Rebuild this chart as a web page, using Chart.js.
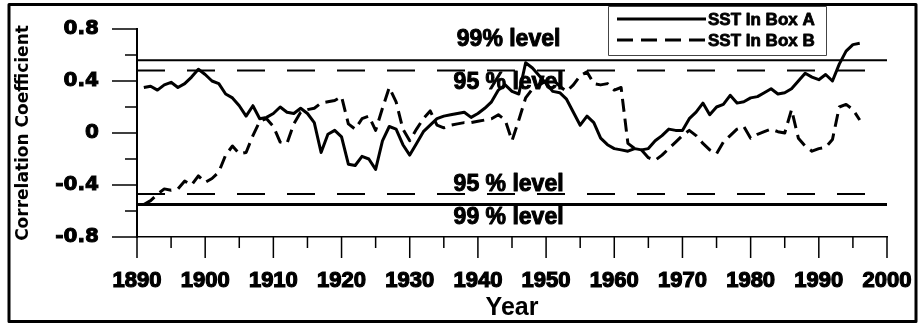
<!DOCTYPE html>
<html>
<head>
<meta charset="UTF-8">
<title>SST correlation</title>
<script src="https://cdn.jsdelivr.net/npm/chart.js@4.4.1/dist/chart.umd.min.js"></script>
<style>
  body { margin: 0; background: #fff; }
  canvas { display: block; }
</style>
</head>
<body>
<canvas id="chart1" width="919" height="324"></canvas>
<script>
// years of the running correlations
var years = [
  1891, 1892, 1893, 1894, 1895, 1896, 1897, 1898, 1899, 1900,
  1901, 1902, 1903, 1904, 1905, 1906, 1907, 1908, 1909, 1910,
  1911, 1912, 1913, 1914, 1915, 1916, 1917, 1918, 1919, 1920,
  1921, 1922, 1923, 1924, 1925, 1926, 1927, 1928, 1929, 1930,
  1931, 1932, 1933, 1934, 1935, 1936, 1937, 1938, 1939, 1940,
  1941, 1942, 1943, 1944, 1945, 1946, 1947, 1948, 1949, 1950,
  1951, 1952, 1953, 1954, 1955, 1956, 1957, 1958, 1959, 1960,
  1961, 1962, 1963, 1964, 1965, 1966, 1967, 1968, 1969, 1970,
  1971, 1972, 1973, 1974, 1975, 1976, 1977, 1978, 1979, 1980,
  1981, 1982, 1983, 1984, 1985, 1986, 1987, 1988, 1989, 1990,
  1991, 1992, 1993, 1994, 1995, 1996
];

var boxA = [
  0.35, 0.36, 0.33, 0.37, 0.39, 0.35, 0.38, 0.43, 0.49, 0.45,
  0.40, 0.38, 0.30, 0.27, 0.21, 0.13, 0.21, 0.11, 0.12, 0.15,
  0.20, 0.16, 0.15, 0.19, 0.15, 0.08, -0.15, -0.01, 0.02, -0.03,
  -0.24, -0.25, -0.18, -0.20, -0.28, -0.06, 0.05, 0.03, -0.09, -0.17,
  -0.08, 0.01, 0.06, 0.11, 0.13, 0.14, 0.15, 0.16, 0.12, 0.15,
  0.19, 0.24, 0.33, 0.37, 0.32, 0.30, 0.54, 0.50, 0.44, 0.38,
  0.32, 0.31, 0.26, 0.16, 0.06, 0.13, 0.08, -0.04, -0.09, -0.12,
  -0.13, -0.14, -0.12, -0.13, -0.12, -0.06, -0.02, 0.03, 0.02, 0.02,
  0.11, 0.16, 0.23, 0.14, 0.20, 0.22, 0.29, 0.23, 0.24, 0.27,
  0.28, 0.31, 0.34, 0.30, 0.31, 0.34, 0.40, 0.46, 0.43, 0.41,
  0.45, 0.40, 0.53, 0.63, 0.68, 0.69
];

var boxB = [
  -0.55, -0.52, -0.47, -0.43, -0.44, -0.43, -0.37, -0.40, -0.33, -0.38,
  -0.35, -0.30, -0.17, -0.10, -0.16, -0.15, -0.02, 0.09, 0.11, 0.05,
  -0.07, -0.08, 0.07, 0.16, 0.18, 0.19, 0.23, 0.24, 0.25, 0.28,
  0.07, 0.03, 0.11, 0.13, 0.02, 0.19, 0.35, 0.24, 0.03, -0.06,
  0.03, 0.11, 0.17, 0.06, 0.04, 0.06, 0.07, 0.08, 0.08, 0.09,
  0.10, 0.11, 0.14, 0.10, -0.06, 0.10, 0.27, 0.34, 0.37, 0.40,
  0.41, 0.36, 0.32, 0.37, 0.44, 0.47, 0.38, 0.37, 0.38, 0.33,
  0.35, -0.08, -0.12, -0.13, -0.19, -0.21, -0.17, -0.12, -0.07, -0.02,
  0.02, -0.02, -0.08, -0.13, -0.16, -0.07, -0.02, 0.03, 0.05, -0.04,
  -0.01, 0.01, 0.03, 0.01, 0.00, 0.18, -0.04, -0.10, -0.14, -0.12,
  -0.11, -0.05, 0.20, 0.22, 0.18, 0.10
];

var seriesNames = ["SST In Box A", "SST In Box B"];

// significance levels
var levelNames = ["99% level", "95 % level", "95 % level", "99 % level"];
var levelValues = [0.56, 0.48, -0.47, -0.55];
var levelSpan = [1890, 2000];

function pts(vals) {
  return years.map(function (yr, i) { return { x: yr, y: vals[i] }; });
}
function levelPts(v) {
  return levelSpan.map(function (yr) { return { x: yr, y: v }; });
}

var levelDash = [[], [28, 22], [28, 22], []];
var levelWidth = [2, 2, 2, 3];

var datasets = levelValues.map(function (v, i) {
  return {
    label: levelNames[i],
    data: levelPts(v),
    borderColor: "#000",
    borderWidth: levelWidth[i],
    borderDash: levelDash[i],
    pointRadius: 0,
    fill: false
  };
});
datasets.push({
  label: seriesNames[0],
  data: pts(boxA),
  borderColor: "#000",
  borderWidth: 3,
  borderJoinStyle: "round",
  pointRadius: 0,
  tension: 0,
  fill: false
});
datasets.push({
  label: seriesNames[1],
  data: pts(boxB),
  borderColor: "#000",
  borderWidth: 3,
  borderDash: [13, 7],
  borderJoinStyle: "round",
  pointRadius: 0,
  tension: 0,
  fill: false
});

// heavy text: fill plus a thin stroke
function heavyText(c, t, x, y, w) {
  c.lineWidth = w;
  c.strokeText(t, x, y);
  c.fillText(t, x, y);
}

// frame, tick marks, level texts and legend box
var extras = {
  id: "extras",
  beforeDraw: function (chart) {
    var c = chart.ctx;
    c.save();
    c.fillStyle = "#fff";
    c.fillRect(0, 0, chart.width, chart.height);
    c.restore();
  },
  afterDraw: function (chart) {
    var c = chart.ctx;
    var xs = chart.scales.x, ys = chart.scales.y, a = chart.chartArea;
    c.save();
    c.strokeStyle = "#000";
    c.fillStyle = "#000";
    c.lineJoin = "round";

    c.lineWidth = 1.5;
    c.beginPath();
    for (var yr = 1890; yr <= 2000; yr += 5) {
      var px = xs.getPixelForValue(yr);
      var len = (yr % 10 === 0) ? 21 : 11;
      c.moveTo(px, a.bottom);
      c.lineTo(px, a.bottom + len);
    }
    for (var k = -8; k <= 8; k += 2) {
      var py = ys.getPixelForValue(k / 10);
      var l2 = (k % 4 === 0) ? 25 : 12;
      c.moveTo(a.left, py);
      c.lineTo(a.left - l2, py);
    }
    c.stroke();

    // level texts
    c.font = "bold 23px 'Liberation Sans'";
    c.textAlign = "center";
    c.textBaseline = "middle";
    var offs = [-21, 12, -9, 13.5];
    var lx = xs.getPixelForValue(1944.5);
    levelNames.forEach(function (t, i) {
      heavyText(c, t, lx, ys.getPixelForValue(levelValues[i]) + offs[i], 1);
    });

    // legend
    c.lineWidth = 1;
    c.strokeStyle = "#444";
    c.strokeRect(608.5, 6.5, 218, 49);
    c.strokeStyle = "#000";
    var rows = [19, 40];
    var dashes = [[], [16, 8]];
    c.font = "bold 17px 'Liberation Sans'";
    c.textAlign = "left";
    seriesNames.forEach(function (t, i) {
      c.lineWidth = 3;
      c.setLineDash(dashes[i]);
      c.beginPath();
      c.moveTo(617, rows[i]);
      c.lineTo(706, rows[i]);
      c.stroke();
      c.setLineDash([]);
      heavyText(c, t, 708, rows[i] + 1, 0.8);
    });

    // outer frame
    c.lineWidth = 3;
    c.strokeRect(9, 4.5, 907, 317);
    c.restore();
  }
};

new Chart("chart1", {
  type: "line",
  data: { datasets: datasets },
  plugins: [extras],
  options: {
    responsive: false,
    animation: false,
    devicePixelRatio: 1,
    layout: { padding: { left: 0, right: 32, top: 29, bottom: 0 } },
    plugins: {
      legend: { display: false },
      tooltip: { enabled: false }
    },
    scales: {
      x: {
        type: "linear",
        min: 1890,
        max: 2000,
        grid: { display: false, drawTicks: false },
        border: { display: true, color: "#000", width: 1.5 },
        ticks: {
          stepSize: 10,
          padding: 31,
          color: "#000",
          textStrokeColor: "#000",
          textStrokeWidth: 1.2,
          font: { family: "Liberation Sans", size: 22, weight: "bold" },
          maxRotation: 0,
          autoSkip: false,
          callback: function (v) { return String(v); }
        },
        title: {
          display: true,
          text: "Year",
          color: "#000",
          font: { family: "Liberation Sans", size: 25, weight: "bold" },
          padding: { top: 0, bottom: 1 }
        },
        afterFit: function (s) {
          s.height = 87;
          s.paddingLeft = 0;
          s.paddingRight = 0;
        }
      },
      y: {
        min: -0.8,
        max: 0.8,
        grid: { display: false, drawTicks: false },
        border: { display: true, color: "#000", width: 2 },
        ticks: {
          stepSize: 0.4,
          padding: 38,
          color: "#000",
          textStrokeColor: "#000",
          textStrokeWidth: 1,
          font: { family: "DejaVu Sans", size: 20, weight: "bold" },
          callback: function (v) { return String(Math.round(v * 10) / 10); }
        },
        title: {
          display: true,
          text: "Correlation Coefficient",
          color: "#000",
          font: { family: "DejaVu Sans", size: 17, weight: "bold" },
          padding: { top: 13, bottom: 0 }
        },
        afterFit: function (s) {
          s.width = 137;
          s.paddingTop = 0;
          s.paddingBottom = 0;
        }
      }
    }
  }
});
</script>
</body>
</html>
